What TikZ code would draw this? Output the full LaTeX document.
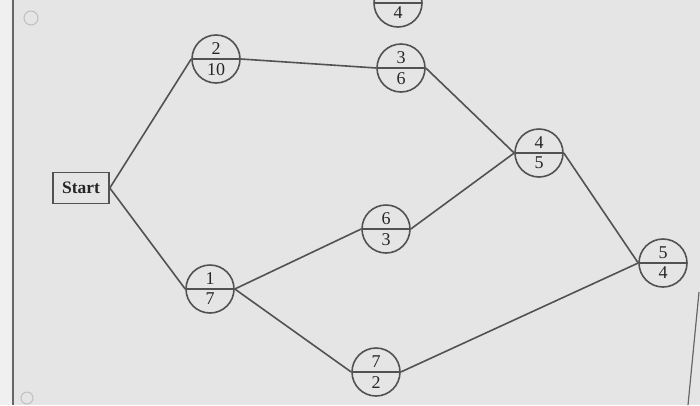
\documentclass[tikz,border=0pt]{standalone}
\usepackage{fontspec}
\setmainfont{Liberation Serif}
\usetikzlibrary{shapes.multipart}
\begin{document}
\begin{tikzpicture}[x=1pt,y=-1pt,
	edge/.style={draw=black!68,line width=1.6pt},
	act/.style={circle split,draw=black!68,line width=1.6pt,minimum size=48pt,text=black!85,font=\fontsize{18}{18}\selectfont},
	startbox/.style={draw=black!68,line width=1.6pt,minimum width=56pt,minimum height=31pt,text=black!85,font=\bfseries\fontsize{17.5}{17.5}\selectfont}]
\fill[black!10] (0,0) rectangle (700,405); %
\useasboundingbox (0,0) rectangle (700,405);
\fill[black!6] (0,0) rectangle (13,405); %
\draw[black!60,line width=1.2pt] (13,0) -- (13,405);
\draw[black!60,line width=1.2pt] (699,292) -- (688,405);
\draw[black!25,line width=1pt] (31,18) circle (7);
\draw[black!25,line width=1pt] (27,398) circle (6);
\node[startbox] (start) at (81,188) {Start};
\node[act] (a2) at (216,59) {2 \nodepart{lower} 10};
\node[act] (a3) at (401,68) {3 \nodepart{lower} 6};
\node[act] (atop) at (398,3) {\nodepart{lower} 4};
\node[act] (a4) at (539,153) {4 \nodepart{lower} 5};
\node[act] (a6) at (386,229) {6 \nodepart{lower} 3};
\node[act] (a1) at (210,289) {1 \nodepart{lower} 7};
\node[act] (a7) at (376,372) {7 \nodepart{lower} 2};
\node[act] (a5) at (663,263) {5 \nodepart{lower} 4};
\foreach \u/\v in {start/a2,start/a1,a2/a3,a3/a4,a1/a6,a6/a4,a1/a7,a7/a5,a4/a5}
{
	\draw[edge] (\u.east) -- (\v.west); %
}
\end{tikzpicture}
\end{document}
